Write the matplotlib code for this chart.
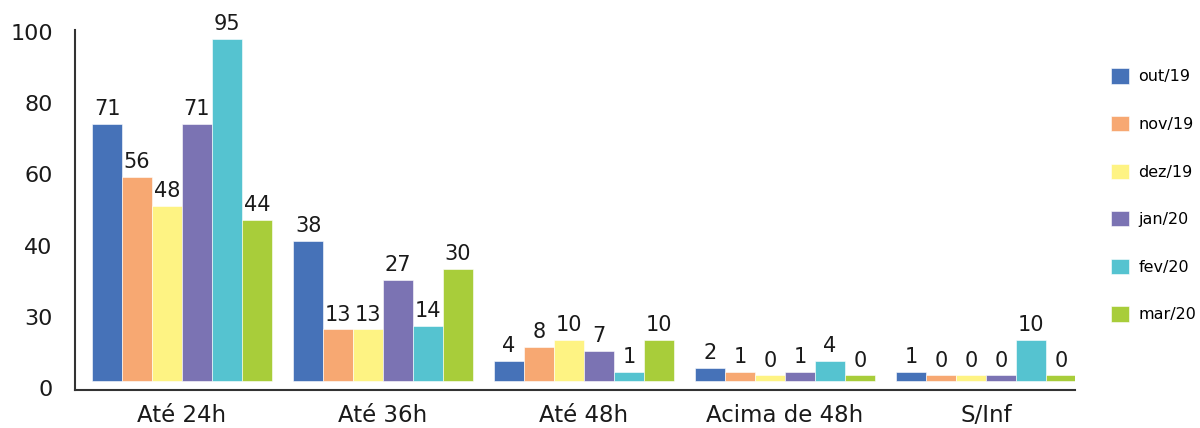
import matplotlib.pyplot as plt
import numpy as np

categorias = ['Até 24h', 'Até 36h', 'Até 48h', 'Acima de 48h', 'S/Inf']
meses = ['out/19', 'nov/19', 'dez/19', 'jan/20', 'fev/20', 'mar/20']
out19 = [71, 38, 4, 2, 1]
nov19 = [56, 13, 8, 1, 0]
dez19 = [48, 13, 10, 0, 0]
jan20 = [71, 27, 7, 1, 0]
fev20 = [95, 14, 1, 4, 10]
mar20 = [44, 30, 10, 0, 0]
series = [out19, nov19, dez19, jan20, fev20, mar20]
cores = ['#4672b8', '#f7a872', '#fef383', '#7b73b3', '#55c3d0', '#a8cd3a']

# the original axis labels are evenly spaced, not to scale
ytick_labels = ['0', '30', '40', '60', '80', '100']

plt.rcParams['font.family'] = ['DejaVu Sans']

fig = plt.figure(figsize=(12, 4.28), dpi=100)
ax = fig.add_axes([75/1200, 1 - 390/428, 1000/1200, 360/428])

x = np.arange(len(categorias))
w = 0.149
base = -1.5
for i, (vals, cor, nome) in enumerate(zip(series, cores, meses)):
    pos = x + (i - 2.5) * w
    ax.bar(pos, np.array(vals) - base, w, bottom=base, color=cor,
           edgecolor='white', linewidth=0.4, label=nome)
    for p, v in zip(pos, vals):
        ax.text(p, v + 1.4, str(v), ha='center', va='bottom',
                fontsize=15, color='#1a1a1a')

ax.set_xlim(-0.532, 4.443)
ax.set_ylim(-4.1, 97.6)
ax.set_xticks(x)
ax.set_xticklabels(categorias, fontsize=16.5, color='#1a1a1a')
ax.set_yticks(np.linspace(-3.5, 97, len(ytick_labels)))
ax.set_yticklabels(ytick_labels, fontsize=16, color='#1a1a1a')
ax.tick_params(length=0)
ax.tick_params(axis='x', pad=10)
ax.tick_params(axis='y', pad=16)
for s in ['top', 'right']:
    ax.spines[s].set_visible(False)
for s in ['left', 'bottom']:
    ax.spines[s].set_color('#333333')
    ax.spines[s].set_linewidth(1.5)

fig.legend(loc='upper left', bbox_to_anchor=(1105/1200, 1 - 62/428),
           frameon=False, fontsize=11.5, handlelength=1.1, handleheight=1.1,
           labelspacing=1.97, handletextpad=0.6, borderaxespad=0)

fig.savefig('out.png', dpi=100)
